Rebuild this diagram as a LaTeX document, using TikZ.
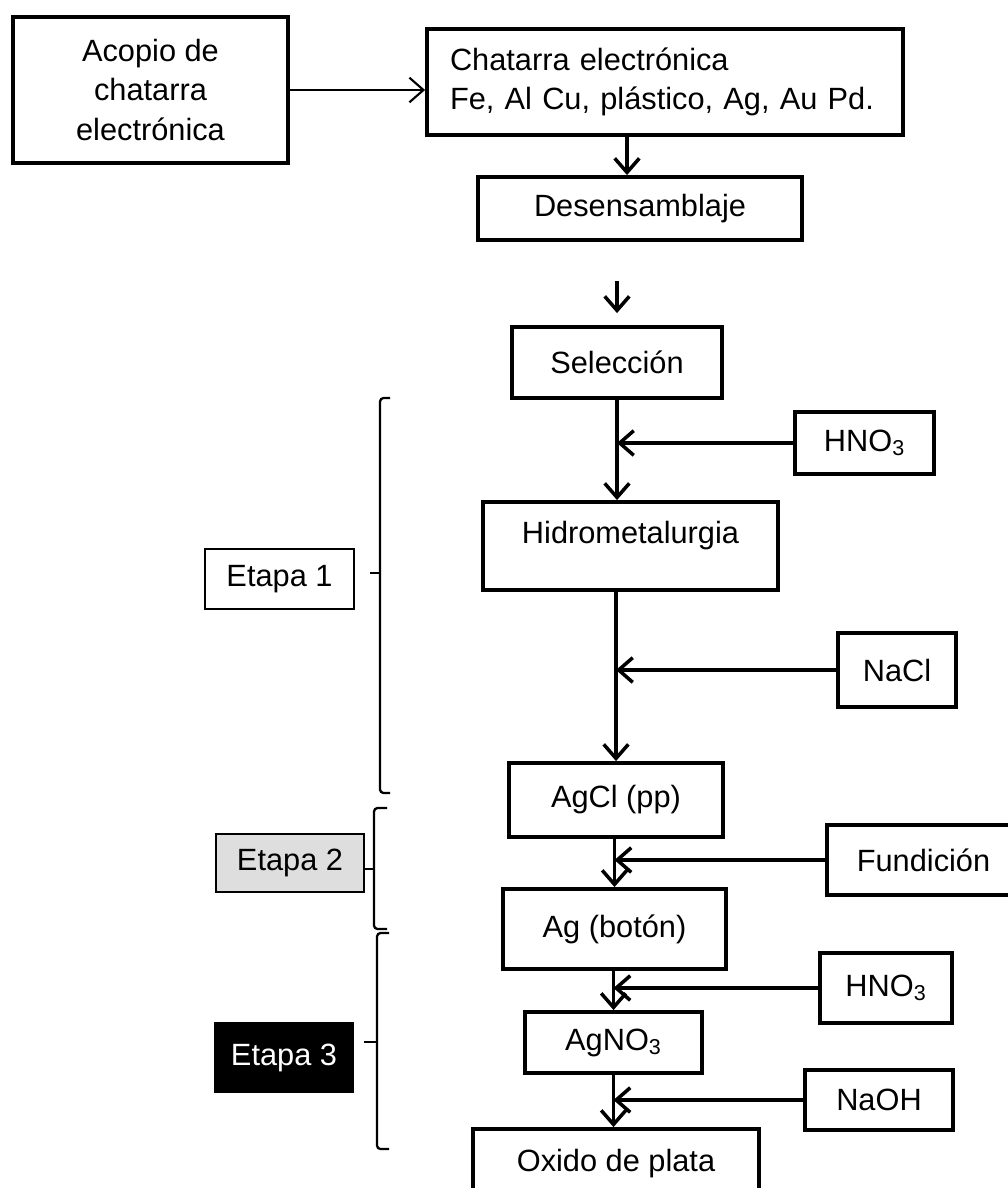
\documentclass[tikz,border=0pt]{standalone}
\usepackage{fontspec}
\setmainfont{Liberation Sans}
\usetikzlibrary{arrows.meta, positioning}
\tikzstyle{process} = [rectangle, draw=black, line width=2.2pt, text centered]
\tikzstyle{reagent} = [rectangle, draw=black, line width=2.2pt, text centered]
\tikzstyle{stage} = [rectangle, draw=black, line width=1.2pt, text centered]
\tikzstyle{flow} = [line width=2pt, -{Straight Barb[length=8pt, width=14pt]}]
\tikzstyle{bracket} = [line width=1.3pt, rounded corners=2pt]

\begin{document}
\begin{tikzpicture}[node distance=2cm, font=\fontsize{17.5}{22.5}\selectfont]
\useasboundingbox (0,0) rectangle (20.16,-23.76);
% main column
\node (acopio) [process, align=center, minimum width=5.5cm, minimum height=2.92cm] at (3.01,-1.80) {Acopio de\\chatarra\\electrónica};
\node (chatarra) [process, right of=acopio, xshift=8.29cm, yshift=0.16cm, align=left, text width=8.6cm, inner xsep=0.46cm, minimum height=2.12cm] {Chatarra electrónica\\Fe, Al Cu, plástico, Ag, Au Pd.};
\node (desens) [process, below of=chatarra, xshift=-0.50cm, yshift=-0.53cm, minimum width=6.48cm, minimum height=1.26cm] {Desensamblaje};
\node (selec) [process, below of=desens, xshift=-0.46cm, yshift=-1.08cm, minimum width=4.2cm, minimum height=1.42cm] {Selección};
\node (hidro) [process, below of=selec, xshift=0.27cm, yshift=-1.67cm, minimum width=5.9cm, minimum height=1.76cm, text depth=0.55cm] {Hidrometalurgia};
\node (agcl) [process, below of=hidro, xshift=-0.29cm, yshift=-3.08cm, minimum width=4.28cm, minimum height=1.48cm] {AgCl (pp)\hspace{0.72cm}};
\node (agbot) [process, below of=agcl, xshift=-0.03cm, yshift=-0.58cm, minimum width=4.46cm, minimum height=1.6cm] {Ag (botón)};
\node (agno3) [process, below of=agbot, xshift=-0.02cm, yshift=-0.27cm, minimum width=3.54cm, minimum height=1.22cm] {AgNO\textsubscript{3}};
\node (oxido) [process, below of=agno3, xshift=0.05cm, yshift=-0.43cm, minimum width=5.72cm, minimum height=1.4cm] {Oxido de plata};
% reagents
\node (hno3a) [reagent, right of=selec, xshift=2.95cm, yshift=-1.61cm, minimum width=2.78cm, minimum height=1.24cm] {HNO\textsubscript{3}};
\node (nacl) [reagent, right of=hidro, xshift=3.33cm, yshift=-2.48cm, minimum width=2.36cm, minimum height=1.48cm] {NaCl};
\node (fund) [reagent, right of=agcl, xshift=4.15cm, yshift=-1.20cm, minimum width=3.86cm, minimum height=1.4cm] {Fundición};
\node (hno3b) [reagent, right of=agbot, xshift=3.43cm, yshift=-1.18cm, minimum width=2.64cm, minimum height=1.4cm] {HNO\textsubscript{3}};
\node (naoh) [reagent, right of=agno3, xshift=3.31cm, yshift=-1.15cm, minimum width=2.96cm, minimum height=1.2cm] {NaOH};
% stages
\node (e1) [stage, left of=hidro, xshift=-5.02cm, yshift=-0.66cm, minimum width=2.98cm, minimum height=1.2cm] {Etapa 1};
\node (e2) [stage, below of=e1, xshift=0.21cm, yshift=-3.68cm, minimum width=2.96cm, minimum height=1.16cm, fill=black!13] {Etapa 2};
\node (e3) [stage, below of=e2, xshift=-0.12cm, yshift=-1.89cm, minimum width=2.76cm, minimum height=1.38cm, fill=black, text=white] {Etapa 3};

\draw [flow, line width=1.2pt] (acopio.east) -- (acopio.east -| chatarra.west);
\coordinate (dtop) at ([xshift=-0.26cm]desens.north);
\draw [flow] (dtop |- chatarra.south) -- (dtop);
\coordinate (gapa) at ([yshift=0.88cm]selec.north);
\coordinate (gapb) at ([yshift=0.24cm]selec.north);
\draw [flow] (gapa) -- (gapb);
\draw [flow] (selec.south) -- (selec.south |- hidro.north);
\draw [flow] (hno3a.west) -- (hno3a.west -| selec.south);
\draw [flow] (agcl.north |- hidro.south) -- (agcl.north);
\draw [flow] (nacl.west) -- (nacl.west -| agcl.north);
\draw [flow] (agbot.north |- agcl.south) -- (agbot.north);
\draw [flow] (fund.west) -- (fund.west -| agbot.north);
\draw [flow] (agno3.north |- agbot.south) -- (agno3.north);
\draw [flow] (hno3b.west) -- (hno3b.west -| agno3.north);
\draw [flow] (agno3.south) -- (agno3.south |- oxido.north);
\draw [flow] (naoh.west) -- (naoh.west -| agno3.south);

% brackets
\draw [bracket] (7.80,-7.96) -- (7.60,-7.96) -- (7.60,-15.86) -- (7.80,-15.86);
\draw [bracket] (7.60,-11.46) -- (7.40,-11.46);
\draw [bracket] (7.74,-16.16) -- (7.48,-16.16) -- (7.48,-18.58) -- (7.74,-18.58);
\draw [bracket] (7.48,-17.38) -- (7.30,-17.38);
\draw [bracket] (7.78,-18.66) -- (7.54,-18.66) -- (7.54,-22.98) -- (7.78,-22.98);
\draw [bracket] (7.54,-20.84) -- (7.28,-20.84);
\end{tikzpicture}
\end{document}
